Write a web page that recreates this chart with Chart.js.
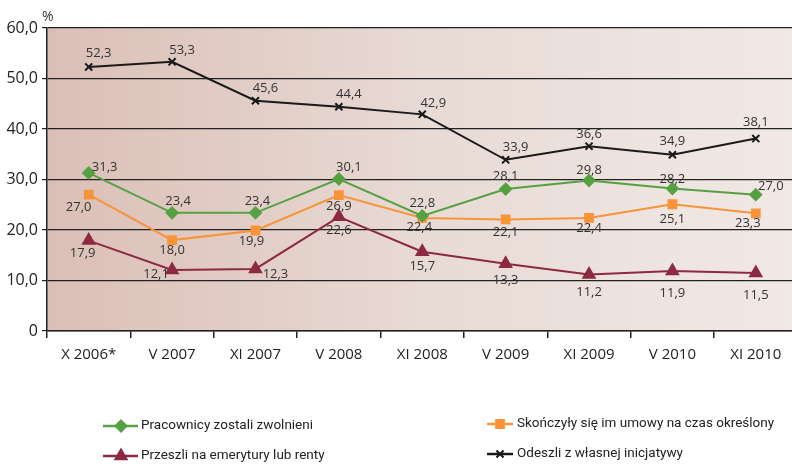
<!DOCTYPE html>
<html>
<head>
<meta charset="utf-8">
<script src="https://cdn.jsdelivr.net/npm/chart.js@4"></script>
<style>
  html, body { margin: 0; padding: 0; background: #fff; overflow: hidden; }
  #wrap { width: 806px; height: 466px; position: relative; }
</style>
</head>
<body>
<div id="wrap"><canvas id="chart"></canvas></div>
<script>
// Data
const periods = ['X 2006*', 'V 2007', 'XI 2007', 'V 2008', 'XI 2008', 'V 2009', 'XI 2009', 'V 2010', 'XI 2010'];
const zwolnieni = [31.3, 23.4, 23.4, 30.1, 22.8, 28.1, 29.8, 28.2, 27.0];
const umowy = [27.0, 18.0, 19.9, 26.9, 22.4, 22.1, 22.4, 25.1, 23.3];
const emerytury = [17.9, 12.1, 12.3, 22.6, 15.7, 13.3, 11.2, 11.9, 11.5];
const inicjatywa = [52.3, 53.3, 45.6, 44.4, 42.9, 33.9, 36.6, 34.9, 38.1];
const yTicks = [0, 10, 20, 30, 40, 50, 60];

// label placement (pixel offsets from each point)
const offZwol = [[16,-6],[6,-12],[2,-12],[10,-12],[0,-13],[0,-13],[0,-10],[0,-9],[15,-8]];
const offUmowy = [[-10,13],[0,10],[-4,11],[0,11],[-3,9],[0,13],[0,10],[0,15],[-8,10]];
const offEmer = [[-6,13],[-16,4],[20,5],[0,13],[0,15],[0,16],[0,18],[0,22],[0,22]];
const offInic = [[10,-14],[10,-12],[10,-12],[10,-12],[11,-11],[10,-13],[0,-12],[0,-13],[0,-16]];

const FONT = "'Open Sans', sans-serif";
const LEGEND_FONT = "Roboto, 'Open Sans', sans-serif";

const series = [
  { label: 'Pracownicy zostali zwolnieni', data: zwolnieni, color: '#56a044', style: 'rectRot', r: 5.5, off: offZwol, lx: 103, ly: 426 },
  { label: 'Skończyły się im umowy na czas określony', data: umowy, color: '#f7943a', style: 'rect', r: 5.5, off: offUmowy, lx: 487, ly: 424 },
  { label: 'Przeszli na emerytury lub renty', data: emerytury, color: '#8b2a40', style: 'triangle', r: 6.5, off: offEmer, lx: 103, ly: 456 },
  { label: 'Odeszli z własnej inicjatywy', data: inicjatywa, color: '#1a1a1a', style: 'crossRot', r: 5, off: offInic, lx: 487, ly: 454 }
];

const bgPlugin = {
  id: 'plotBg',
  beforeDraw(chart) {
    const { ctx, chartArea: a } = chart;
    const g = ctx.createLinearGradient(a.left, 0, a.right, 0);
    g.addColorStop(0, '#dbbfb6');
    g.addColorStop(0.5, '#e8dad5');
    g.addColorStop(1, '#f1e9e6');
    ctx.save();
    ctx.fillStyle = g;
    ctx.fillRect(a.left, a.top, a.right - a.left, a.bottom - a.top);
    ctx.restore();
  }
};

const labelPlugin = {
  id: 'valueLabels',
  afterDatasetsDraw(chart) {
    const ctx = chart.ctx;
    ctx.save();
    ctx.font = '13px ' + FONT;
    ctx.fillStyle = '#333';
    ctx.textAlign = 'center';
    ctx.textBaseline = 'middle';
    chart.data.datasets.forEach((ds, i) => {
      const meta = chart.getDatasetMeta(i);
      meta.data.forEach((pt, j) => {
        const o = series[i].off[j];
        ctx.fillText(ds.data[j].toFixed(1).replace('.', ','), pt.x + o[0], pt.y + o[1]);
      });
    });
    // unit label
    ctx.font = '14px ' + FONT;
    ctx.textAlign = 'left';
    ctx.fillText('%', 42, 17);
    ctx.restore();
  },
  afterDraw(chart) {
    const ctx = chart.ctx;
    ctx.save();
    ctx.font = '13.5px ' + LEGEND_FONT;
    ctx.textBaseline = 'middle';
    ctx.textAlign = 'left';
    series.forEach((s, i) => {
      const ds = chart.data.datasets[i];
      const right = s.lx > 300;
      ctx.strokeStyle = s.color;
      ctx.fillStyle = s.color;
      ctx.lineWidth = 2.5;
      ctx.beginPath();
      ctx.moveTo(s.lx, s.ly);
      ctx.lineTo(s.lx + (right ? 26 : 35), s.ly);
      ctx.stroke();
      ctx.lineWidth = 2;
      Chart.helpers.drawPoint(ctx, {
        pointStyle: s.style, radius: s.r, rotation: 0, borderWidth: 2
      }, s.lx + (right ? 13 : 18), s.ly);
      ctx.fillStyle = '#222';
      ctx.fillText(ds.label, s.lx + (right ? 30 : 38), s.ly);
    });
    ctx.restore();
  }
};

new Chart(document.getElementById('chart'), {
  type: 'line',
  data: {
    labels: periods,
    datasets: series.map(s => ({
      label: s.label,
      data: s.data,
      borderColor: s.color,
      backgroundColor: s.color,
      borderWidth: 2,
      pointStyle: s.style,
      pointRadius: s.r,
      pointBorderWidth: 2,
      tension: 0,
      fill: false
    }))
  },
  options: {
    responsive: true,
    maintainAspectRatio: false,
    animation: false,
    layout: { padding: { top: 28, right: 4, left: 0, bottom: 0 } },
    scales: {
      x: {
        offset: true,
        grid: { offset: true, drawOnChartArea: false, drawTicks: true, tickLength: 7, color: '#222', lineWidth: 1.5 },
        border: { display: true, color: '#222', width: 1.5 },
        ticks: { color: '#222', font: { family: FONT, size: 15 }, padding: 8, maxRotation: 0 },
        afterFit(scale) { scale.height = 135; }
      },
      y: {
        min: 0,
        max: 60,
        afterBuildTicks(scale) { scale.ticks = yTicks.map(v => ({ value: v })); },
        grid: { color: '#222', lineWidth: 1.2, drawTicks: true, tickLength: 5 },
        border: { display: true, color: '#222', width: 1.5 },
        ticks: {
          color: '#222',
          font: { family: FONT, size: 16 },
          padding: 4,
          callback: v => v === 0 ? '0' : v.toFixed(1).replace('.', ',')
        },
        afterFit(scale) { scale.width = 47; }
      }
    },
    plugins: {
      legend: { display: false },
      tooltip: { enabled: false }
    }
  },
  plugins: [bgPlugin, labelPlugin]
});
</script>
</body>
</html>
